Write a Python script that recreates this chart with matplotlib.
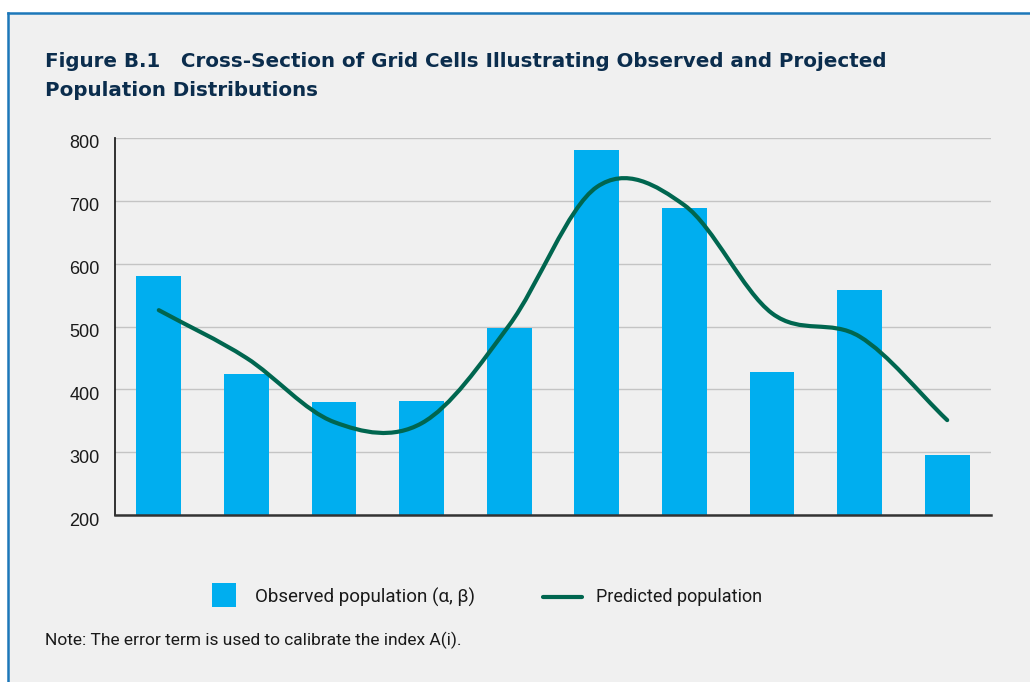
import matplotlib.pyplot as plt
import matplotlib.transforms as mtransforms
from matplotlib.path import Path
from matplotlib.patches import PathPatch, Rectangle
from matplotlib.lines import Line2D

# Hodnoty odčítané z obrázka
cells = list(range(10))
observed = [580, 425, 380, 381, 497, 781, 689, 427, 558, 295]
predicted = [526, 450, 348, 346, 502, 722, 693, 521, 484, 351]
y_ticks = [200, 300, 400, 500, 600, 700, 800]

title_lines = [
    "Figure B.1   Cross-Section of Grid Cells Illustrating Observed and Projected",
    "Population Distributions",
]
legend_labels = ["Observed population (\u03b1, \u03b2)", "Predicted population"]
note_text = "Note: The error term is used to calibrate the index A(i)."

W, H = 1030, 682
BAR_COLOR = "#00aeef"
LINE_COLOR = "#00664f"
TITLE_COLOR = "#0b2d4d"
FRAME_COLOR = "#1c77b9"
BG_COLOR = "#f0f0f0"


def fx(x):
    return x / W


def fy(y):
    return 1 - y / H


def smooth_path(xs, ys):
    """Catmull-Rom krivka cez body, prevedená na Bezierove segmenty."""
    n = len(xs)
    verts = [(xs[0], ys[0])]
    codes = [Path.MOVETO]
    for i in range(n - 1):
        x0, y0 = xs[i], ys[i]
        x1, y1 = xs[i + 1], ys[i + 1]
        m0 = (y1 - y0) if i == 0 else (y1 - ys[i - 1]) / 2
        m1 = (y1 - y0) if i + 1 == n - 1 else (ys[i + 2] - y0) / 2
        dx = x1 - x0
        verts += [(x0 + dx / 3, y0 + m0 / 3), (x1 - dx / 3, y1 - m1 / 3), (x1, y1)]
        codes += [Path.CURVE4] * 3
    return Path(verts, codes)


fig = plt.figure(figsize=(W / 100, H / 100), dpi=100, facecolor="white")

# Pozadie rámčeka a modré okraje (hore a vľavo)
fig.add_artist(Rectangle((fx(8), 0), 1, fy(13), transform=fig.transFigure,
                         facecolor=BG_COLOR, edgecolor="none", zorder=-2))
fig.add_artist(Line2D([fx(8), 1], [fy(13), fy(13)], transform=fig.transFigure,
                      color=FRAME_COLOR, lw=1.8, zorder=-1))
fig.add_artist(Line2D([fx(8), fx(8)], [0, fy(13)], transform=fig.transFigure,
                      color=FRAME_COLOR, lw=1.8, zorder=-1))

ax = fig.add_axes([fx(115), fy(515), fx(991 - 115), (515 - 138) / H])
ax.patch.set_alpha(0)

ax.bar(cells, observed, width=0.51, color=BAR_COLOR, zorder=2)
ax.add_patch(PathPatch(smooth_path(cells, predicted), fill=False,
                       edgecolor=LINE_COLOR, lw=3, capstyle="round", zorder=3))

ax.set_xlim(-0.5, 9.5)
ax.set_ylim(200, 800)
ax.set_xticks([])
ax.set_yticks(y_ticks)
ax.yaxis.grid(True, color="#c4c4c4", lw=1)
ax.set_axisbelow(True)
ax.tick_params(axis="y", length=0, pad=11, labelsize=13, labelcolor="#1a1a1a")
shift = mtransforms.ScaledTranslation(0, -0.04, fig.dpi_scale_trans)
for lbl in ax.get_yticklabels():
    lbl.set_family("Liberation Sans")
    lbl.set_transform(lbl.get_transform() + shift)

for side in ["top", "right"]:
    ax.spines[side].set_visible(False)
ax.spines["left"].set_color("#222222")
ax.spines["left"].set_linewidth(1.3)
ax.spines["bottom"].set_color("#333333")
ax.spines["bottom"].set_linewidth(1.8)
ax.spines["bottom"].set_zorder(4)

# Nadpis
for text, base in zip(title_lines, [67, 96]):
    fig.text(fx(45), fy(base), text, va="baseline", ha="left",
             fontsize=14.3, fontweight="bold", family="DejaVu Sans", color=TITLE_COLOR)

# Legenda kreslená ručne
fig.add_artist(Rectangle((fx(212), fy(607)), fx(24), 24 / H,
                         transform=fig.transFigure, facecolor=BAR_COLOR, edgecolor="none"))
fig.text(fx(255), fy(597), legend_labels[0], va="center", ha="left",
         fontsize=13.5, family="Roboto", color="#1a1a1a")
fig.add_artist(Line2D([fx(543), fx(582)], [fy(597), fy(597)], transform=fig.transFigure,
                      color=LINE_COLOR, lw=3, solid_capstyle="round"))
fig.text(fx(596), fy(597), legend_labels[1], va="center", ha="left",
         fontsize=13.0, family="Roboto", color="#1a1a1a")

# Poznámka
fig.text(fx(45), fy(645), note_text, va="baseline", ha="left",
         fontsize=12.5, family="Roboto", color="#1a1a1a")

fig.savefig("out.png", dpi=100, facecolor=fig.get_facecolor())
